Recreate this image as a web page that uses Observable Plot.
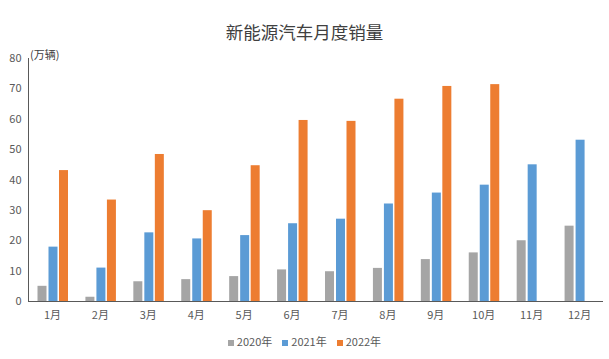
<!DOCTYPE html>
<html><head><meta charset="utf-8">
<script src="https://cdn.jsdelivr.net/npm/d3@7"></script>
<script src="https://cdn.jsdelivr.net/npm/@observablehq/plot@0.6"></script>
<style>
body{margin:0;background:#fff;font-family:"Noto Sans CJK SC",sans-serif;}
#wrap{position:relative;width:609px;height:359px;}
#title{height:48px;box-sizing:border-box;padding-top:22px;line-height:20px;text-align:center;font-size:17.5px;color:#404040;}
#unit{position:absolute;left:30px;top:46px;font-size:11px;color:#404040;}
#legend{position:absolute;left:0;top:333px;width:609px;line-height:16px;text-align:center;font-size:11px;color:#595959;}
#legend span{display:inline-block;margin:0 5px;}
#legend i{display:inline-block;width:6px;height:6px;margin-right:3px;vertical-align:0px;}
svg text{font-family:"Noto Sans CJK SC",sans-serif;}
</style></head>
<body><div id="wrap">
<div id="title">新能源汽车月度销量</div>
<div id="chart"></div>
<div id="unit">(万辆)</div>
<div id="legend"></div>
</div>
<script>
const months = ["1月","2月","3月","4月","5月","6月","7月","8月","9月","10月","11月","12月"];
const years = ["2020年","2021年","2022年"];
const colors = ["#A5A5A5","#5B9BD5","#ED7D31"];
const s2020 = [5.0, 1.4, 6.5, 7.2, 8.2, 10.4, 9.8, 10.9, 13.8, 16.0, 20.0, 24.8];
const s2021 = [17.9, 11.0, 22.6, 20.6, 21.7, 25.6, 27.1, 32.1, 35.7, 38.3, 45.0, 53.1];
const s2022 = [43.1, 33.4, 48.4, 29.9, 44.7, 59.6, 59.3, 66.6, 70.8, 71.4, null, null];
const yTicks = [0,10,20,30,40,50,60,70,80];

const series = [s2020, s2021, s2022];
const band = (609 - 28 - 6) / 12;
const barW = 9;
const offsets = [9.5, 20.5, 31];

const marks = series.map((s, k) => Plot.barY(
  months.map((m, i) => ({month: m, value: s[i]})).filter(d => d.value != null),
  {x: "month", y: "value", fill: colors[k],
   insetLeft: offsets[k], insetRight: band - offsets[k] - barW}
));

const chart = Plot.plot({
  width: 609, height: 285,
  marginLeft: 28, marginRight: 6, marginTop: 10, marginBottom: 32,
  style: {fontSize: "11px", color: "#595959", background: "#fff"},
  x: {domain: months, paddingInner: 0, paddingOuter: 0, round: false, tickSize: 0, tickPadding: 10, label: null},
  y: {domain: [0, 80], ticks: yTicks, tickSize: 0, tickPadding: 7, label: null},
  marks: [
    ...marks,
    Plot.frame({anchor: "left", stroke: "#595959"}),
    Plot.ruleY([0], {stroke: "#595959"})
  ]
});
document.getElementById("chart").appendChild(chart);

const lg = document.getElementById("legend");
years.forEach((y, k) => {
  const sp = document.createElement("span");
  sp.innerHTML = `<i style="background:${colors[k]}"></i>${y}`;
  lg.appendChild(sp);
});
</script>
</body></html>
